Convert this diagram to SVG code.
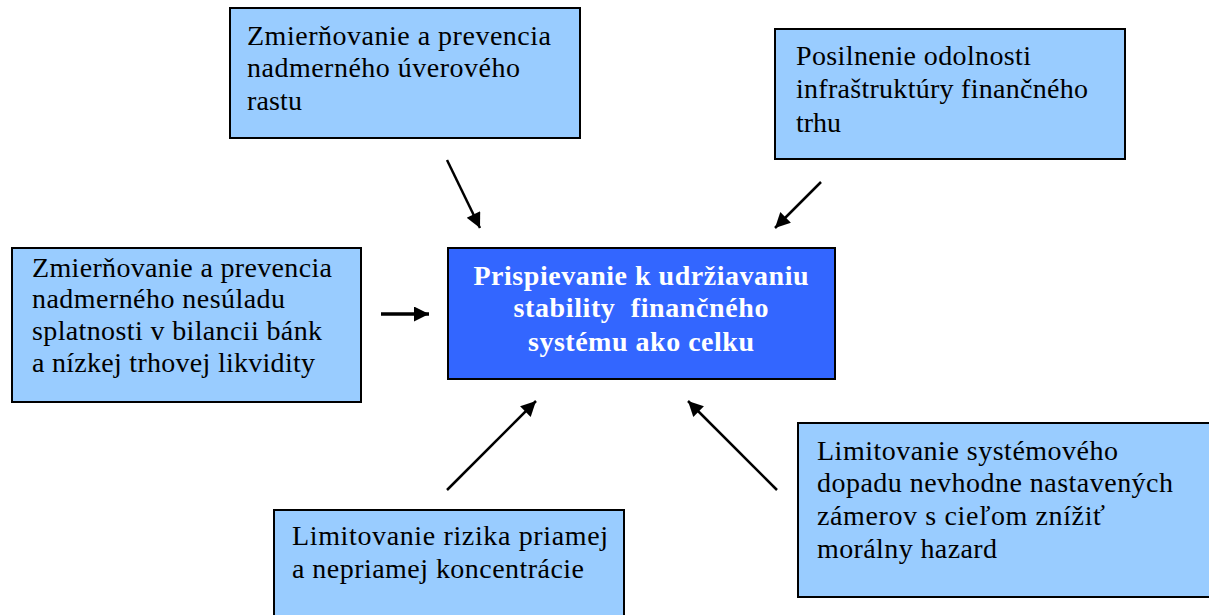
<svg xmlns="http://www.w3.org/2000/svg" width="1209" height="615" viewBox="0 0 1209 615">
<style>
.box{fill:#99CCFF;stroke:#000;stroke-width:2}
.main{fill:#3366FF;stroke:#000;stroke-width:2}
.t{font-family:"Liberation Serif","Times New Roman",serif;font-size:28px;fill:#000}
.tb{font-family:"Liberation Serif","Times New Roman",serif;font-size:28px;font-weight:bold;fill:#fff;text-anchor:middle}
.arr{stroke:#000;stroke-width:2.5;fill:none;marker-end:url(#ah)}
</style>
<defs>
<marker id="ah" viewBox="0 0 10 10" refX="10" refY="5" markerWidth="18" markerHeight="15" markerUnits="userSpaceOnUse" orient="auto">
<path d="M0,0 L10,5 L0,10 z" fill="#000"/>
</marker>
</defs>
<rect width="1209" height="615" fill="#fff"/>
<g id="node-top-left">
<rect class="box" x="230" y="8" width="350" height="130"/>
<text class="t" x="247" y="45" textLength="304" lengthAdjust="spacing">Zmierňovanie a prevencia</text>
<text class="t" x="247" y="77" textLength="273" lengthAdjust="spacing">nadmerného úverového</text>
<text class="t" x="247" y="110" textLength="55" lengthAdjust="spacing">rastu</text>
</g>
<g id="node-top-right">
<rect class="box" x="775" y="29" width="350" height="130"/>
<text class="t" x="796" y="65" textLength="235" lengthAdjust="spacing">Posilnenie odolnosti</text>
<text class="t" x="796" y="98" textLength="292" lengthAdjust="spacing">infraštruktúry finančného</text>
<text class="t" x="796" y="132" textLength="45" lengthAdjust="spacing">trhu</text>
</g>
<g id="node-left">
<rect class="box" x="12" y="248" width="349" height="154"/>
<text class="t" x="32" y="277" textLength="300" lengthAdjust="spacing">Zmierňovanie a prevencia</text>
<text class="t" x="32" y="308" textLength="253" lengthAdjust="spacing">nadmerného nesúladu</text>
<text class="t" x="32" y="340" textLength="290" lengthAdjust="spacing">splatnosti v bilancii bánk</text>
<text class="t" x="32" y="372" textLength="283" lengthAdjust="spacing">a nízkej trhovej likvidity</text>
</g>
<g id="node-center">
<rect class="main" x="448" y="248" width="387" height="131"/>
<text class="tb" x="641" y="285" textLength="335" lengthAdjust="spacing">Prispievanie k udržiavaniu</text>
<text class="tb" x="641" y="317" textLength="255" lengthAdjust="spacing" xml:space="preserve">stability  finančného</text>
<text class="tb" x="641" y="351" textLength="226" lengthAdjust="spacing">systému ako celku</text>
</g>
<g id="node-bottom-center">
<rect class="box" x="274" y="510" width="350" height="112"/>
<text class="t" x="292" y="545" textLength="316" lengthAdjust="spacing">Limitovanie rizika priamej</text>
<text class="t" x="292" y="578" textLength="292" lengthAdjust="spacing">a nepriamej koncentrácie</text>
</g>
<g id="node-bottom-right">
<rect class="box" x="798" y="423" width="420" height="174"/>
<text class="t" x="817" y="460" textLength="301" lengthAdjust="spacing">Limitovanie systémového</text>
<text class="t" x="817" y="492" textLength="356" lengthAdjust="spacing">dopadu nevhodne nastavených</text>
<text class="t" x="817" y="525" textLength="288" lengthAdjust="spacing">zámerov s cieľom znížiť</text>
<text class="t" x="817" y="558" textLength="180" lengthAdjust="spacing">morálny hazard</text>
</g>
<g id="connectors">
<line class="arr" x1="447" y1="160" x2="480" y2="228"/>
<line class="arr" x1="821" y1="182" x2="775" y2="228"/>
<line class="arr" x1="381" y1="314" x2="429" y2="314" style="stroke-width:3.5"/>
<line class="arr" x1="447" y1="490" x2="536" y2="401"/>
<line class="arr" x1="777" y1="490" x2="688" y2="401"/>
</g>
</svg>
